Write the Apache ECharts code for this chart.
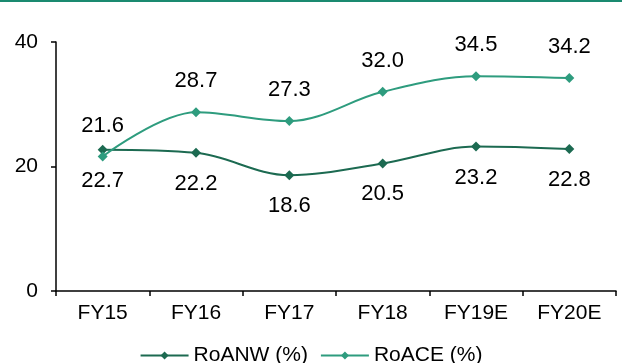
<!DOCTYPE html>
<html>
<head>
<meta charset="utf-8">
<script src="https://cdn.jsdelivr.net/npm/echarts@6/dist/echarts.min.js"></script>
<style>
  html, body { margin: 0; padding: 0; background: #fff; }
  #chart { width: 622px; height: 363px; }
</style>
</head>
<body>
<div id="chart"></div>
<script>
// Return ratios by fiscal year
const categories = ['FY15', 'FY16', 'FY17', 'FY18', 'FY19E', 'FY20E'];
const roanw = [22.7, 22.2, 18.6, 20.5, 23.2, 22.8];
const roace = [21.6, 28.7, 27.3, 32.0, 34.5, 34.2];
const yTicks = { min: 0, max: 40, interval: 20 };

const DARK = '#1c6a51';
const LIGHT = '#2e9c7e';
const FONT = 'Liberation Sans, Arial, sans-serif';
const axisText = { color: '#000', fontFamily: FONT, fontSize: 21 };
const valueText = { color: '#000', fontFamily: FONT, fontSize: 22 };

const chart = echarts.init(document.getElementById('chart'), null, { renderer: 'canvas' });

function lineSeries(name, data, color, labelPos) {
  return {
    name: name,
    type: 'line',
    data: data,
    smooth: 0.35,
    symbol: 'diamond',
    symbolSize: 10,
    lineStyle: { color: color, width: 2 },
    itemStyle: { color: color },
    label: {
      show: true,
      position: labelPos,
      distance: 15,
      formatter: p => p.value.toFixed(1),
      ...valueText
    },
    emphasis: { disabled: true }
  };
}

chart.setOption({
  animation: false,
  graphic: [{
    type: 'rect',
    shape: { x: 0, y: 0, width: 622, height: 2 },
    style: { fill: '#1a8a70' }
  }],
  grid: { left: 56, right: 6, top: 42, bottom: 72, containLabel: false },
  legend: {
    top: 340,
    left: 'center',
    itemWidth: 48,
    itemHeight: 10,
    itemGap: 12,
    textStyle: { ...axisText },
    data: ['RoANW (%)', 'RoACE (%)']
  },
  xAxis: {
    type: 'category',
    data: categories,
    boundaryGap: true,
    axisLine: { lineStyle: { color: '#000', width: 1.5 } },
    axisTick: { show: true, length: 5, lineStyle: { color: '#000', width: 1.5 } },
    axisLabel: { ...axisText, margin: 12 },
    splitLine: { show: false }
  },
  yAxis: {
    type: 'value',
    min: yTicks.min,
    max: yTicks.max,
    interval: yTicks.interval,
    axisLine: { show: true, lineStyle: { color: '#000', width: 1.5 } },
    axisTick: { show: true, length: 5, lineStyle: { color: '#000', width: 1.5 } },
    axisLabel: { ...axisText, margin: 18 },
    splitLine: { show: false }
  },
  series: [
    lineSeries('RoANW (%)', roanw, DARK, 'bottom'),
    lineSeries('RoACE (%)', roace, LIGHT, 'top')
  ]
});
</script>
</body>
</html>
